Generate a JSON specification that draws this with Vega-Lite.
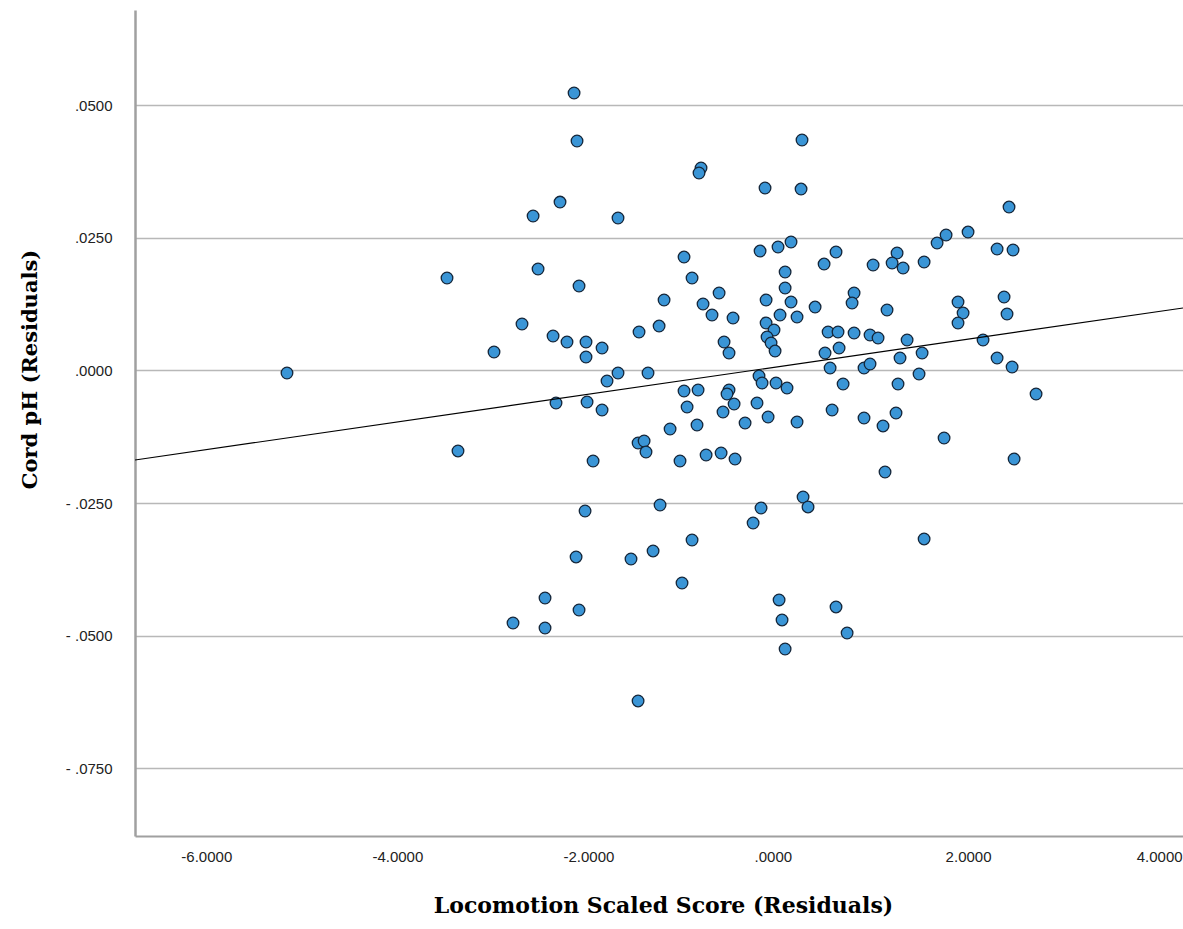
{
  "$schema": "https://vega.github.io/schema/vega-lite/v6.json",
  "width": 1048,
  "height": 826,
  "autosize": {"type": "none"},
  "padding": {"left": 135, "top": 10, "right": 0, "bottom": 93},
  "background": "white",
  "config": {"view": {"stroke": null}},
  "datasets": {
    "pts": [
      {"x": -1.884, "y": 0.05226}, {"x": -1.853, "y": 0.04322}, {"x": -0.555, "y": 0.03813}, {"x": -0.576, "y": 0.03719},
      {"x": 0.115, "y": 0.03436}, {"x": -2.031, "y": 0.03172}, {"x": -2.313, "y": 0.02909}, {"x": -1.424, "y": 0.02871},
      {"x": -0.733, "y": 0.02136}, {"x": 0.063, "y": 0.02249}, {"x": 0.251, "y": 0.02325}, {"x": 0.387, "y": 0.02419},
      {"x": -2.261, "y": 0.0191}, {"x": -1.832, "y": 0.0159}, {"x": -0.649, "y": 0.01741}, {"x": -0.942, "y": 0.01326},
      {"x": -0.366, "y": 0.01458}, {"x": -0.534, "y": 0.01251}, {"x": 0.126, "y": 0.01326}, {"x": 0.325, "y": 0.01854},
      {"x": 0.325, "y": 0.01552}, {"x": 0.387, "y": 0.01289}, {"x": 0.502, "y": 0.04341}, {"x": 0.492, "y": 0.03417},
      {"x": 2.669, "y": 0.03078}, {"x": 0.858, "y": 0.02231}, {"x": 0.733, "y": 0.02004}, {"x": 1.246, "y": 0.01986},
      {"x": 1.497, "y": 0.02212}, {"x": 1.445, "y": 0.02023}, {"x": 1.56, "y": 0.01929}, {"x": 1.78, "y": 0.02042},
      {"x": 1.916, "y": 0.024}, {"x": 2.01, "y": 0.02551}, {"x": 2.24, "y": 0.02607}, {"x": 2.544, "y": 0.02287},
      {"x": 2.711, "y": 0.02268}, {"x": 0.639, "y": 0.01194}, {"x": 1.047, "y": 0.01458}, {"x": 1.026, "y": 0.0127},
      {"x": 1.392, "y": 0.01138}, {"x": 2.135, "y": 0.01289}, {"x": 2.617, "y": 0.01383}, {"x": 2.648, "y": 0.01063},
      {"x": -0.44, "y": 0.01044}, {"x": -0.22, "y": 0.00987}, {"x": 0.272, "y": 0.01044}, {"x": -2.104, "y": 0.00648},
      {"x": -1.958, "y": 0.00535}, {"x": -1.759, "y": 0.00535}, {"x": -1.759, "y": 0.00252}, {"x": -1.591, "y": 0.00422},
      {"x": -1.204, "y": 0.00723}, {"x": -0.994, "y": 0.00836}, {"x": -0.314, "y": 0.00535}, {"x": -0.262, "y": 0.00328},
      {"x": 0.126, "y": 0.00893}, {"x": 0.209, "y": 0.00761}, {"x": 0.136, "y": 0.00629}, {"x": 0.178, "y": 0.00516},
      {"x": 0.22, "y": 0.00365}, {"x": -1.424, "y": -0.00049}, {"x": -1.539, "y": -0.002}, {"x": -1.11, "y": -0.00049},
      {"x": -2.073, "y": -0.00614}, {"x": -1.748, "y": -0.00595}, {"x": -1.591, "y": -0.00746}, {"x": -0.733, "y": -0.00388},
      {"x": -0.586, "y": -0.00369}, {"x": -0.701, "y": -0.0069}, {"x": -0.262, "y": -0.00369}, {"x": -0.283, "y": -0.00445},
      {"x": -0.209, "y": -0.00633}, {"x": -0.325, "y": -0.00784}, {"x": 0.052, "y": -0.00105}, {"x": 0.084, "y": -0.00237},
      {"x": 0.23, "y": -0.00237}, {"x": 0.345, "y": -0.00332}, {"x": 0.031, "y": -0.00614}, {"x": 0.147, "y": -0.00878},
      {"x": -0.094, "y": -0.00991}, {"x": -0.597, "y": -0.01029}, {"x": -0.879, "y": -0.01104}, {"x": -1.214, "y": -0.01368},
      {"x": -1.151, "y": -0.0133}, {"x": -1.131, "y": -0.01537}, {"x": -1.685, "y": -0.01707}, {"x": -0.775, "y": -0.01707},
      {"x": -0.502, "y": -0.01594}, {"x": -0.345, "y": -0.01556}, {"x": -0.199, "y": -0.01669}, {"x": -0.984, "y": -0.02536},
      {"x": 0.45, "y": 0.01006}, {"x": 2.188, "y": 0.01081}, {"x": 2.135, "y": 0.00893}, {"x": 0.775, "y": 0.00723},
      {"x": 0.879, "y": 0.00723}, {"x": 1.047, "y": 0.00705}, {"x": 1.214, "y": 0.00667}, {"x": 1.298, "y": 0.0061},
      {"x": 1.602, "y": 0.00573}, {"x": 0.89, "y": 0.00422}, {"x": 0.743, "y": 0.00328}, {"x": 1.759, "y": 0.00328},
      {"x": 1.528, "y": 0.00234}, {"x": 2.397, "y": 0.00573}, {"x": 2.544, "y": 0.00234}, {"x": 2.701, "y": 0.00064},
      {"x": 0.796, "y": 0.00045}, {"x": 1.151, "y": 0.00045}, {"x": 1.214, "y": 0.00121}, {"x": 1.727, "y": -0.00068},
      {"x": 0.932, "y": -0.00256}, {"x": 1.507, "y": -0.00256}, {"x": 2.952, "y": -0.00445}, {"x": 0.45, "y": -0.00972},
      {"x": 0.817, "y": -0.00746}, {"x": 1.151, "y": -0.00897}, {"x": 1.486, "y": -0.00803}, {"x": 1.35, "y": -0.01047},
      {"x": 1.989, "y": -0.01274}, {"x": 2.722, "y": -0.01669}, {"x": 1.371, "y": -0.01914}, {"x": 0.513, "y": -0.02385},
      {"x": 0.565, "y": -0.02573}, {"x": -1.769, "y": -0.02649}, {"x": 0.073, "y": -0.02592}, {"x": -0.01, "y": -0.02875},
      {"x": -0.649, "y": -0.03195}, {"x": -1.863, "y": -0.03515}, {"x": -1.288, "y": -0.03553}, {"x": -1.057, "y": -0.03402},
      {"x": -0.754, "y": -0.04005}, {"x": -2.188, "y": -0.04288}, {"x": -1.832, "y": -0.04514}, {"x": -2.188, "y": -0.04853},
      {"x": 0.262, "y": -0.04325}, {"x": 0.293, "y": -0.04702}, {"x": 0.325, "y": -0.05249}, {"x": -1.214, "y": -0.06228},
      {"x": 1.78, "y": -0.03176}, {"x": 0.858, "y": -0.04457}, {"x": 0.974, "y": -0.04947}, {"x": -3.214, "y": 0.01741},
      {"x": -4.889, "y": -0.00049}, {"x": -3.099, "y": -0.01518}, {"x": -2.722, "y": 0.00347}, {"x": -2.429, "y": 0.00874},
      {"x": -2.523, "y": -0.04759}
    ],
    "fit": [
      {"x": -6.48, "y": -0.01688},
      {"x": 4.49, "y": 0.01176}
    ]
  },
  "layer": [
    {
      "data": {"name": "pts"},
      "mark": {"type": "circle", "size": 135, "fill": "#3a95d6", "stroke": "#14263a", "strokeWidth": 1.3, "opacity": 1},
      "encoding": {
        "x": {
          "field": "x", "type": "quantitative",
          "scale": {"domain": [-6.48, 4.49], "nice": false, "zero": false},
          "axis": {
            "values": [-6, -4, -2, 0, 2, 4],
            "labelExpr": "replace(replace(format(datum.value, '.4f'), '0.', '.'), '−', '-')",
            "grid": false, "ticks": false,
            "domainColor": "#a0a0a0", "domainWidth": 2,
            "labelFont": "Liberation Sans", "labelFontSize": 15, "labelColor": "#222222",
            "labelAlign": "left", "labelDx": -7,
            "labelPadding": 13, "labelOverlap": false, "labelFlush": false,
            "title": "Locomotion Scaled Score (Residuals)",
            "titleFont": "DejaVu Serif", "titleFontSize": 22, "titleFontWeight": "bold", "titleColor": "#000000",
            "titleX": 528, "titleY": 69, "titleBaseline": "middle", "titleAlign": "center"
          }
        },
        "y": {
          "field": "y", "type": "quantitative",
          "scale": {"domain": [-0.08772, 0.0679], "nice": false, "zero": false},
          "axis": {
            "values": [-0.075, -0.05, -0.025, 0, 0.025, 0.05],
            "labelExpr": "replace(replace(format(datum.value, '.4f'), '0.', '.'), '−', '- ')",
            "grid": true, "gridColor": "#b8b8b8", "gridWidth": 1.5,
            "ticks": false,
            "domainColor": "#a0a0a0", "domainWidth": 2.5,
            "labelFont": "Liberation Sans", "labelFontSize": 15, "labelColor": "#222222",
            "labelPadding": 23, "labelOverlap": false, "labelFlush": false,
            "title": "Cord pH (Residuals)",
            "titleFont": "DejaVu Serif", "titleFontSize": 21, "titleFontWeight": "bold", "titleColor": "#000000",
            "titleX": -105, "titleY": 359, "titleAngle": -90, "titleBaseline": "middle", "titleAlign": "center"
          }
        }
      }
    },
    {
      "data": {"name": "fit"},
      "mark": {"type": "line", "color": "#000000", "strokeWidth": 1.2, "clip": true},
      "encoding": {
        "x": {"field": "x", "type": "quantitative"},
        "y": {"field": "y", "type": "quantitative"}
      }
    }
  ]
}
